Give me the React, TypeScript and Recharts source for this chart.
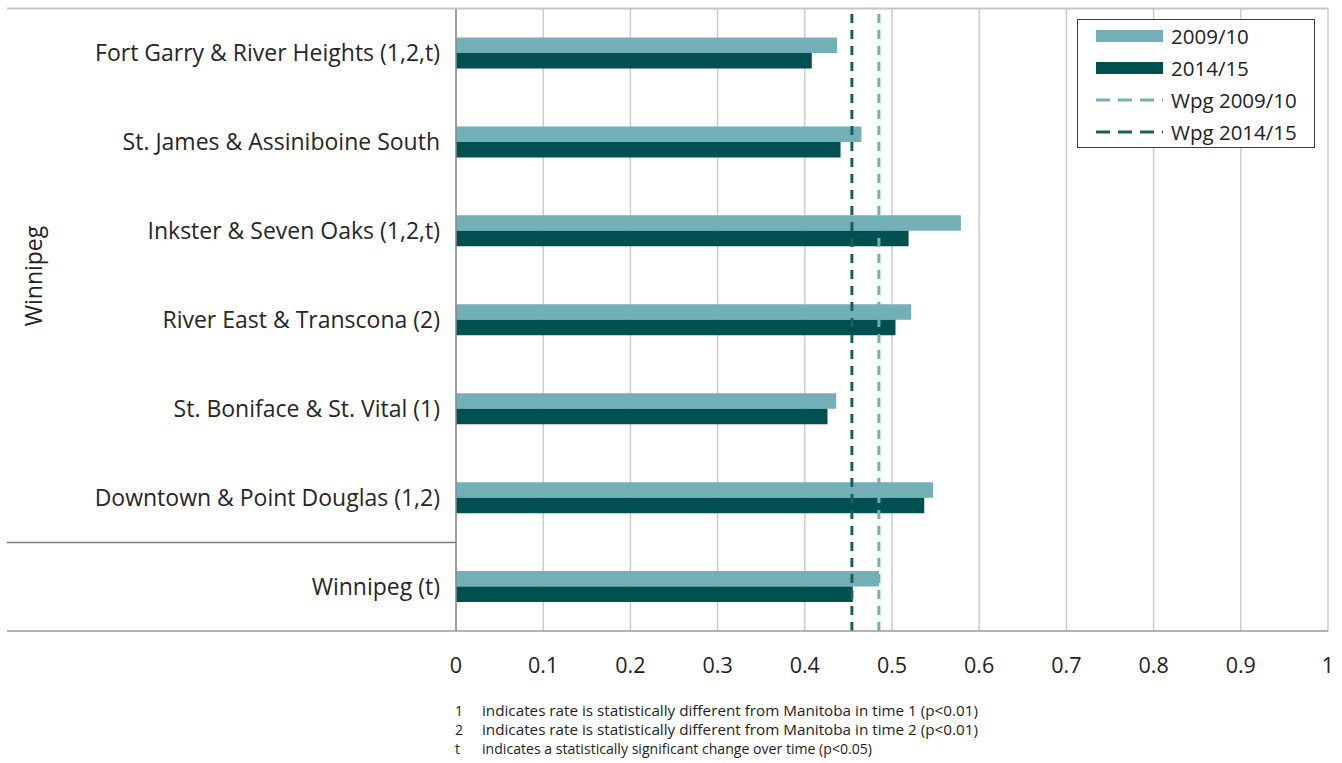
import React from 'react';
import { BarChart, Bar, XAxis, YAxis, CartesianGrid, ReferenceLine, Legend } from 'recharts';

const categories = [
  'Fort Garry & River Heights (1,2,t)',
  'St. James & Assiniboine South ',
  'Inkster & Seven Oaks (1,2,t)',
  'River East & Transcona (2)',
  'St. Boniface & St. Vital (1)',
  'Downtown & Point Douglas (1,2)',
  'Winnipeg (t)',
];
const values2009 = [0.437, 0.465, 0.579, 0.522, 0.436, 0.547, 0.485];
const values2014 = [0.408, 0.441, 0.519, 0.504, 0.426, 0.537, 0.455];
const wpg2009 = 0.485;
const wpg2014 = 0.454;
const xTicks = [0, 0.1, 0.2, 0.3, 0.4, 0.5, 0.6, 0.7, 0.8, 0.9, 1];
const xTickLabels = ['0', '0.1', '0.2', '0.3', '0.4', '0.5', '0.6', '0.7', '0.8', '0.9', '1'];
const groupLabel = 'Winnipeg';
const footnoteKeys = ['1', '2', 't'];
const footnoteTexts = [
  'indicates rate is statistically different from Manitoba in time 1 (p<0.01)',
  'indicates rate is statistically different from Manitoba in time 2 (p<0.01)',
  'indicates a statistically significant change over time (p<0.05)',
];
const footnoteWidths = [496, 496, 390];
const legendLabels = ['2009/10', '2014/15', 'Wpg 2009/10', 'Wpg 2014/15'];

const LIGHT = '#73AFB7';
const DARK = '#00504F';
const FONT = '"Open Sans", "DejaVu Sans", sans-serif';

const data = categories.map((name, i) => ({ name, v2009: values2009[i], v2014: values2014[i] }));

const LegendBox = () => (
  <div
    style={{
      position: 'absolute', left: 0, top: 0, width: 238, height: 129,
      border: '1.5px solid #3d3d3d', boxSizing: 'border-box', background: '#fff',
      fontFamily: FONT, fontSize: 20.5, color: '#222',
    }}
  >
    {legendLabels.map((label, i) => (
      <div key={label} style={{ position: 'absolute', left: 18, top: 3 + i * 32, height: 26, display: 'flex', alignItems: 'center', whiteSpace: 'nowrap' }}>
        <svg width={68} height={14} style={{ display: 'block' }}>
          {i < 2 ? (
            <rect x={0} y={1} width={67} height={12} fill={i === 0 ? LIGHT : DARK} />
          ) : (
            <line x1={0} y1={7} x2={67} y2={7} stroke={i === 2 ? LIGHT : '#1B5E5E'} strokeWidth={3} strokeDasharray="14 8" />
          )}
        </svg>
        <span style={{ marginLeft: 7, lineHeight: '26px' }}>{label}</span>
      </div>
    ))}
  </div>
);

export default function App() {
  return (
    <div style={{ position: 'absolute', left: 0, top: 0, width: 1342, height: 763, background: '#fff' }}>
      <BarChart
        width={1342}
        height={763}
        data={data}
        layout="vertical"
        margin={{ top: 8.5, right: 14, bottom: 92, left: 0 }}
        barGap={0}
        barSize={15.5}
      >
        <CartesianGrid horizontal={false} vertical stroke="#cdcdcd" strokeWidth={1.5} />
        <XAxis
          type="number"
          domain={[0, 1]}
          ticks={xTicks}
          tickFormatter={(v: number) => xTickLabels[xTicks.indexOf(v)] ?? String(v)}
          height={40}
          tickLine={false}
          axisLine={{ stroke: '#9a9a9a', strokeWidth: 1.5 }}
          tickSize={0}
          tickMargin={27}
          tick={{ fontFamily: FONT, fontSize: 21.5, fill: '#222' }}
          interval={0}
        />
        <YAxis
          type="category"
          dataKey="name"
          width={456}
          tickLine={false}
          tickSize={0}
          tickMargin={16}
          axisLine={{ stroke: '#8a8a8a', strokeWidth: 1.5 }}
          tick={{ fontFamily: FONT, fontSize: 23, fill: '#262626' }}
          interval={0}
        />
        <Legend
          content={() => <LegendBox />}
          wrapperStyle={{ left: 1077, top: 19, width: 0, height: 0, overflow: 'visible' }}
        />
        <Bar dataKey="v2009" name="2009/10" fill={LIGHT} isAnimationActive={false} />
        <Bar dataKey="v2014" name="2014/15" fill={DARK} isAnimationActive={false} />
        <ReferenceLine x={wpg2009} stroke={LIGHT} strokeWidth={3} strokeDasharray="9 7" />
        <ReferenceLine x={wpg2014} stroke="#1B5E5E" strokeWidth={3} strokeDasharray="9 7" />
      </BarChart>
      <svg width={1342} height={763} style={{ position: 'absolute', left: 0, top: 0, pointerEvents: 'none' }}>
        <line x1={7} y1={8.5} x2={1328} y2={8.5} stroke="#c4c4c4" strokeWidth={2} />
        <line x1={7} y1={542.5} x2={456} y2={542.5} stroke="#7a7a7a" strokeWidth={1.5} />
        <line x1={7} y1={631} x2={456} y2={631} stroke="#9a9a9a" strokeWidth={1.5} />
        <text x={33} y={276} transform="rotate(-90 33 276)" textAnchor="middle" dominantBaseline="central" fontFamily={FONT} fontSize={23} fill="#222">
          {groupLabel}
        </text>
        {footnoteKeys.map((k, i) => (
          <g key={k}>
            <text x={455} y={716 + i * 19} fontFamily={FONT} fontSize={14} fill="#222">{k}</text>
            <text x={482} y={716 + i * 19} fontFamily={FONT} fontSize={14} fill="#222" textLength={footnoteWidths[i]} lengthAdjust="spacingAndGlyphs">
              {footnoteTexts[i]}
            </text>
          </g>
        ))}
      </svg>
    </div>
  );
}
